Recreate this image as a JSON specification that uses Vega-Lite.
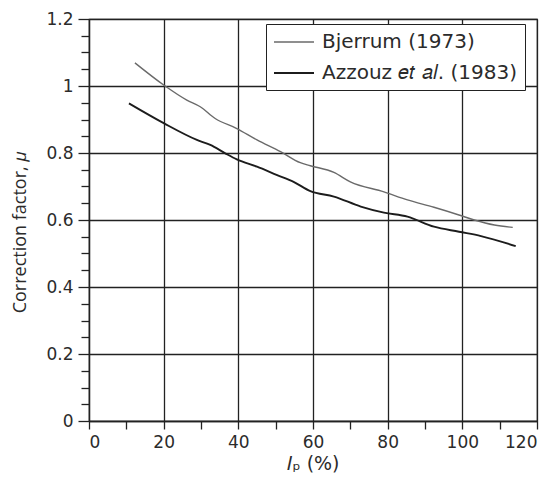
{
  "$schema": "https://vega.github.io/schema/vega-lite/v6.json",
  "autosize": "none",
  "width": 448,
  "height": 402,
  "padding": {"left": 89, "top": 19, "right": 11, "bottom": 63},
  "background": "white",
  "config": {
    "font": "DejaVu Sans",
    "view": {"stroke": "#222", "strokeWidth": 1.2},
    "axis": {
      "labelFont": "DejaVu Sans",
      "titleFont": "DejaVu Sans",
      "labelColor": "#2b2b2b",
      "titleColor": "#2b2b2b",
      "labelFontSize": 17,
      "titleFontSize": 18,
      "titleFontWeight": "normal",
      "domainColor": "#222",
      "domainWidth": 1.3,
      "tickColor": "#222",
      "tickWidth": 1.3,
      "gridColor": "#222",
      "gridWidth": 1.3
    },
    "legend": {
      "labelFont": "DejaVu Sans",
      "labelFontSize": 20,
      "labelColor": "#2b2b2b"
    }
  },
  "data": {
    "values": [
      {"ip": 12.3, "mu": 1.069, "source": "Bjerrum (1973)"},
      {"ip": 20.0, "mu": 1.003, "source": "Bjerrum (1973)"},
      {"ip": 26.2, "mu": 0.958, "source": "Bjerrum (1973)"},
      {"ip": 29.8, "mu": 0.938, "source": "Bjerrum (1973)"},
      {"ip": 33.8, "mu": 0.903, "source": "Bjerrum (1973)"},
      {"ip": 39.6, "mu": 0.873, "source": "Bjerrum (1973)"},
      {"ip": 45.0, "mu": 0.839, "source": "Bjerrum (1973)"},
      {"ip": 51.3, "mu": 0.804, "source": "Bjerrum (1973)"},
      {"ip": 56.6, "mu": 0.771, "source": "Bjerrum (1973)"},
      {"ip": 59.3, "mu": 0.762, "source": "Bjerrum (1973)"},
      {"ip": 65.6, "mu": 0.742, "source": "Bjerrum (1973)"},
      {"ip": 70.0, "mu": 0.714, "source": "Bjerrum (1973)"},
      {"ip": 79.0, "mu": 0.684, "source": "Bjerrum (1973)"},
      {"ip": 85.3, "mu": 0.660, "source": "Bjerrum (1973)"},
      {"ip": 92.4, "mu": 0.638, "source": "Bjerrum (1973)"},
      {"ip": 99.1, "mu": 0.615, "source": "Bjerrum (1973)"},
      {"ip": 103.2, "mu": 0.600, "source": "Bjerrum (1973)"},
      {"ip": 108.6, "mu": 0.585, "source": "Bjerrum (1973)"},
      {"ip": 113.5, "mu": 0.578, "source": "Bjerrum (1973)"},
      {"ip": 10.7, "mu": 0.948, "source": "Azzouz 𝑒𝑡 𝑎𝑙. (1983)"},
      {"ip": 20.0, "mu": 0.889, "source": "Azzouz 𝑒𝑡 𝑎𝑙. (1983)"},
      {"ip": 28.9, "mu": 0.839, "source": "Azzouz 𝑒𝑡 𝑎𝑙. (1983)"},
      {"ip": 32.5, "mu": 0.824, "source": "Azzouz 𝑒𝑡 𝑎𝑙. (1983)"},
      {"ip": 36.5, "mu": 0.799, "source": "Azzouz 𝑒𝑡 𝑎𝑙. (1983)"},
      {"ip": 39.6, "mu": 0.781, "source": "Azzouz 𝑒𝑡 𝑎𝑙. (1983)"},
      {"ip": 45.0, "mu": 0.759, "source": "Azzouz 𝑒𝑡 𝑎𝑙. (1983)"},
      {"ip": 50.4, "mu": 0.734, "source": "Azzouz 𝑒𝑡 𝑎𝑙. (1983)"},
      {"ip": 54.8, "mu": 0.714, "source": "Azzouz 𝑒𝑡 𝑎𝑙. (1983)"},
      {"ip": 59.3, "mu": 0.686, "source": "Azzouz 𝑒𝑡 𝑎𝑙. (1983)"},
      {"ip": 65.6, "mu": 0.670, "source": "Azzouz 𝑒𝑡 𝑎𝑙. (1983)"},
      {"ip": 72.8, "mu": 0.640, "source": "Azzouz 𝑒𝑡 𝑎𝑙. (1983)"},
      {"ip": 79.0, "mu": 0.622, "source": "Azzouz 𝑒𝑡 𝑎𝑙. (1983)"},
      {"ip": 85.3, "mu": 0.610, "source": "Azzouz 𝑒𝑡 𝑎𝑙. (1983)"},
      {"ip": 92.4, "mu": 0.580, "source": "Azzouz 𝑒𝑡 𝑎𝑙. (1983)"},
      {"ip": 99.1, "mu": 0.565, "source": "Azzouz 𝑒𝑡 𝑎𝑙. (1983)"},
      {"ip": 105.0, "mu": 0.552, "source": "Azzouz 𝑒𝑡 𝑎𝑙. (1983)"},
      {"ip": 114.3, "mu": 0.522, "source": "Azzouz 𝑒𝑡 𝑎𝑙. (1983)"}
    ]
  },
  "mark": {"type": "line", "interpolate": "monotone"},
  "encoding": {
    "x": {
      "field": "ip",
      "type": "quantitative",
      "scale": {"domain": [0, 120], "nice": false},
      "axis": {
        "title": "𝐼ₚ (%)",
        "titleFontSize": 19,
        "values": [0, 10, 20, 30, 40, 50, 60, 70, 80, 90, 100, 110, 120],
        "labelExpr": "datum.value % 20 == 0 ? datum.label : ''",
        "gridOpacity": {"condition": {"test": "datum.value % 20 == 0", "value": 1}, "value": 0},
        "grid": true,
        "tickSize": 8,
        "labelPadding": 5,
        "titlePadding": 4
      }
    },
    "y": {
      "field": "mu",
      "type": "quantitative",
      "scale": {"domain": [0, 1.2], "nice": false},
      "axis": {
        "title": "Correction factor, 𝜇",
        "titleFont": "Open Sans",
        "titleFontSize": 18,
        "values": [0, 0.05, 0.1, 0.15, 0.2, 0.25, 0.3, 0.35, 0.4, 0.45, 0.5, 0.55, 0.6, 0.65, 0.7, 0.75, 0.8, 0.85, 0.9, 0.95, 1, 1.05, 1.1, 1.15, 1.2],
        "labelExpr": "round(datum.value * 100) % 20 == 0 ? format(datum.value, '.1~f') : ''",
        "gridOpacity": {"condition": {"test": "round(datum.value * 100) % 20 == 0", "value": 1}, "value": 0},
        "tickSize": {"condition": {"test": "round(datum.value * 100) % 20 == 0", "value": 11}, "value": 8},
        "grid": true,
        "labelPadding": 5,
        "titleX": -69,
        "titleY": 213,
        "titleBaseline": "middle"
      }
    },
    "color": {
      "field": "source",
      "type": "nominal",
      "sort": ["Bjerrum (1973)", "Azzouz 𝑒𝑡 𝑎𝑙. (1983)"],
      "scale": {"domain": ["Bjerrum (1973)", "Azzouz 𝑒𝑡 𝑎𝑙. (1983)"], "range": ["#6a6a6a", "#1c1c1c"]},
      "legend": {
        "title": null,
        "orient": "none",
        "legendX": 177,
        "legendY": 5,
        "symbolType": "M-2,0H2",
        "symbolSize": 400,
        "symbolOffset": 10,
        "symbolStrokeWidth": 1.6,
        "strokeColor": "#222",
        "fillColor": "white",
        "padding": 7,
        "rowPadding": 10,
        "labelOffset": 17,
        "labelLimit": 300
      }
    },
    "strokeWidth": {
      "field": "source",
      "type": "nominal",
      "scale": {"domain": ["Bjerrum (1973)", "Azzouz 𝑒𝑡 𝑎𝑙. (1983)"], "range": [1.4, 1.9]},
      "legend": null
    }
  }
}
